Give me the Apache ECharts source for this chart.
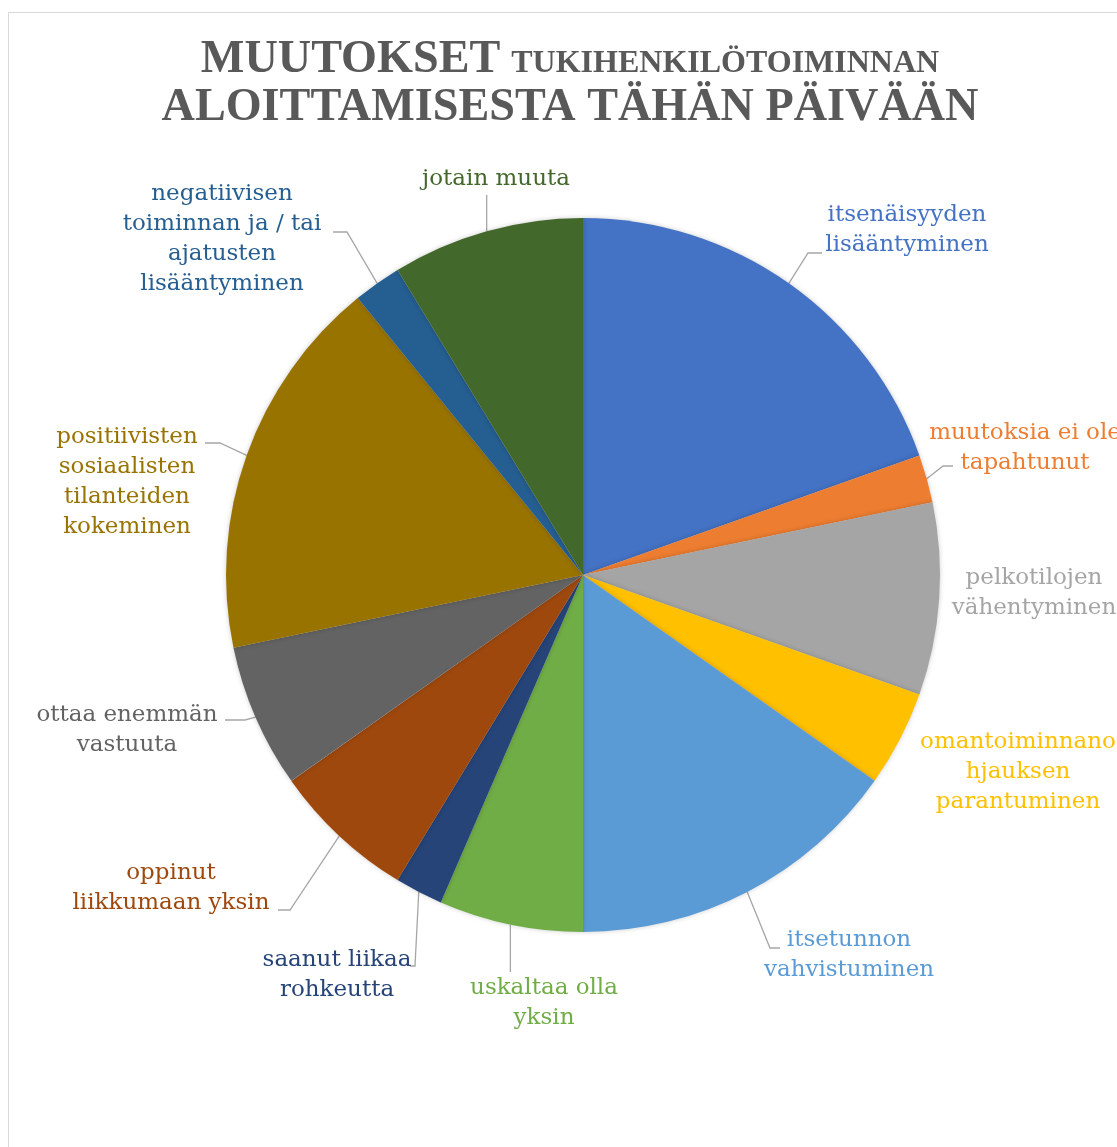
<!DOCTYPE html>
<html>
<head>
<meta charset="utf-8">
<script src="https://cdn.jsdelivr.net/npm/echarts@6/dist/echarts.min.js"></script>
<style>
  html, body { margin: 0; padding: 0; background: #fff; overflow: hidden; }
  #chart { width: 1117px; height: 1147px; }
  #frame {
    position: absolute; left: 8px; top: 12px; width: 1200px; height: 1200px;
    border-left: 1px solid #d9d9d9; border-top: 1px solid #d9d9d9;
    pointer-events: none;
  }
</style>
</head>
<body>
<div id="chart"></div>
<div id="frame"></div>
<script>
// slices, clockwise from 12 o'clock
const categories = [
  "itsenäisyyden\nlisääntyminen",
  "muutoksia ei ole\ntapahtunut",
  "pelkotilojen\nvähentyminen",
  "omantoiminnano\nhjauksen\nparantuminen",
  "itsetunnon\nvahvistuminen",
  "uskaltaa olla\nyksin",
  "saanut liikaa\nrohkeutta",
  "oppinut\nliikkumaan yksin",
  "ottaa enemmän\nvastuuta",
  "positiivisten\nsosiaalisten\ntilanteiden\nkokeminen",
  "negatiivisen\ntoiminnan ja / tai\najatusten\nlisääntyminen",
  "jotain muuta"
];
const values = [9, 1, 4, 2, 7, 3, 1, 3, 3, 8, 1, 4];
const colors = [
  "#4472C4", "#ED7D31", "#A5A5A5", "#FFC000", "#5B9BD5", "#70AD47",
  "#264478", "#9E480E", "#636363", "#997300", "#255E91", "#43682B"
];

const CX = 583, CY = 575, R = 357;
// label block centres, as laid out in the original
const labelPos = [
  [907, 230], [1025, 448], [1034, 593], [1018, 772], [849, 955], [544, 1003],
  [337, 975], [171, 888], [127, 730], [127, 482], [222, 239], [496, 179]
];
// leader line: elbow and end next to the label (null = no leader)
const leaderEnd = [
  [[808, 253], [822, 253]],
  [[943, 466], [953, 466]],
  null,
  null,
  [[770, 948], [780, 948]],
  [[null, 972], [null, 972]],
  [[415, 966], [410, 966]],
  [[290, 910], [278, 910]],
  [[245, 720], [225, 720]],
  [[220, 443], [205, 443]],
  [[347, 232], [333, 232]],
  [[null, 195], [null, 195]]
];

// point on the rim in the middle of each slice
const total = values.reduce((a, b) => a + b, 0);
let acc = 0;
const anchors = values.map((v) => {
  const mid = ((acc + v / 2) / total) * Math.PI * 2;
  acc += v;
  return [CX + R * Math.sin(mid), CY - R * Math.cos(mid)];
});

const chart = echarts.init(document.getElementById("chart"));

const option = {
  animation: false,
  title: {
    text: "{a|MUUTOKSET}{s| }{b|TUKIHENKILÖTOIMINNAN}\n{a|ALOITTAMISESTA TÄHÄN PÄIVÄÄN}",
    left: 565,
    top: 30,
    textAlign: "center",
    textStyle: {
      rich: {
        a: {
          fontFamily: "Liberation Serif",
          fontWeight: "bold",
          fontSize: 46.2,
          lineHeight: 48,
          color: "#595959",
          verticalAlign: "bottom"
        },
        s: {
          fontSize: 46,
          lineHeight: 48,
          width: 11
        },
        b: {
          fontFamily: "Liberation Serif",
          fontWeight: "bold",
          fontSize: 32,
          lineHeight: 48,
          color: "#595959",
          verticalAlign: "bottom",
          padding: [0, 0, 3, 0]
        }
      }
    }
  },
  series: [
    {
      type: "pie",
      center: [CX, CY],
      radius: [0, R],
      startAngle: 90,
      clockwise: true,
      itemStyle: {
        shadowBlur: 5,
        shadowColor: "rgba(0,0,0,0.2)"
      },
      label: {
        show: true,
        position: "outside",
        fontFamily: "DejaVu Serif",
        fontSize: 23,
        lineHeight: 30,
        overflow: "none",
        formatter: "{b}"
      },
      labelLine: {
        show: true,
        length: 15,
        length2: 15,
        smooth: false,
        lineStyle: { color: "#A6A6A6", width: 1.3 }
      },
      labelLayout: function (params) {
        const i = params.dataIndex;
        const p = labelPos[i];
        const out = { x: p[0], y: p[1], align: "center", verticalAlign: "middle" };
        const le = leaderEnd[i];
        if (le) {
          const a = anchors[i];
          const elbow = [le[0][0] == null ? a[0] : le[0][0], le[0][1]];
          const end = [le[1][0] == null ? a[0] : le[1][0], le[1][1]];
          out.labelLinePoints = [a, elbow, end];
        }
        return out;
      },
      data: categories.map((name, i) => ({
        name,
        value: values[i],
        itemStyle: { color: colors[i] },
        label: { color: colors[i] },
        labelLine: { show: leaderEnd[i] != null }
      }))
    }
  ]
};

chart.setOption(option);
</script>
</body>
</html>
